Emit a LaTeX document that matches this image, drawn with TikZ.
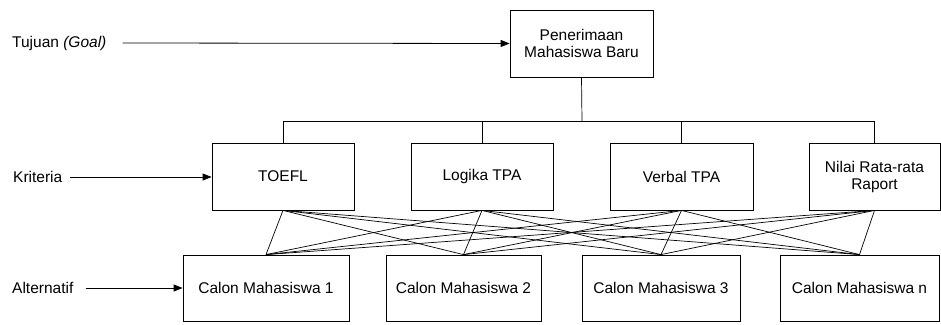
\documentclass[tikz,border=0pt]{standalone}
\usepackage{fontspec}
\setmainfont{Liberation Sans}
\usetikzlibrary{arrows.meta,positioning}
\tikzset{boxy/.style={draw,rectangle,line width=0.8pt,align=center,inner sep=0,font=\fontsize{15.5}{17}\selectfont},
    levelname/.style={anchor=west,inner sep=0,font=\fontsize{15.5}{17}\selectfont},
    pointer/.style={-{Triangle[length=9pt,width=7pt]},line width=0.8pt},
    link/.style={line width=0.7pt}
}

\begin{document}
\begin{tikzpicture}[x=1pt,y=-1pt]

\useasboundingbox (0,0) rectangle (941,324);

% goal
\node (goal) at (581.5,43.5) [boxy,minimum width=143,minimum height=67] {Penerimaan\\Mahasiswa Baru};

% criteria
\node (toefl) at (283,176.5) [boxy,minimum width=142,minimum height=67] {TOEFL};
\node (logika) at (482,176.5) [boxy,minimum width=142,minimum height=67] {Logika TPA};
\node (verbal) at (681.5,176.5) [boxy,minimum width=143,minimum height=67] {Verbal TPA};
\node (nilai) at (874.5,176.5) [boxy,minimum width=131,minimum height=67] {Nilai Rata-rata\\Raport};

% alternatives
\node (calon1) at (266,288) [boxy,minimum width=166,minimum height=66] {Calon Mahasiswa 1};
\node (calon2) at (463.5,288) [boxy,minimum width=155,minimum height=66] {Calon Mahasiswa 2};
\node (calon3) at (661,288) [boxy,minimum width=158,minimum height=66] {Calon Mahasiswa 3};
\node (calonn) at (859.5,288) [boxy,minimum width=159,minimum height=66] {Calon Mahasiswa n};

% level names
\node (tujuan) at (12,43) [levelname] {Tujuan \textit{(Goal)}};
\node (kriteria) at (13,177) [levelname] {Kriteria};
\node (alternatif) at (12,288) [levelname] {Alternatif};

\draw [pointer] ([xshift=16pt]tujuan.east) -- (goal.west);
\draw [pointer] ([xshift=8pt]kriteria.east) -- (kriteria.east -| toefl.west);
\draw [pointer] ([xshift=12pt]alternatif.east) -- (calon1.west);

% tree from goal to criteria
\coordinate (bar) at (582,121.7);
\draw [link] (goal.south) -- (bar);
\draw [link] (toefl.north |- bar) -- (nilai.north |- bar);
\foreach \c in {toefl,logika,verbal,nilai}
    \draw [link] (\c.north |- bar) -- (\c.north);

% every criterion to every alternative
\foreach \c in {toefl,logika,verbal,nilai}
    \foreach \a in {calon1,calon2,calon3,calonn}
        \draw [link] (\c.south) -- (\a.north);

\end{tikzpicture}
\end{document}
